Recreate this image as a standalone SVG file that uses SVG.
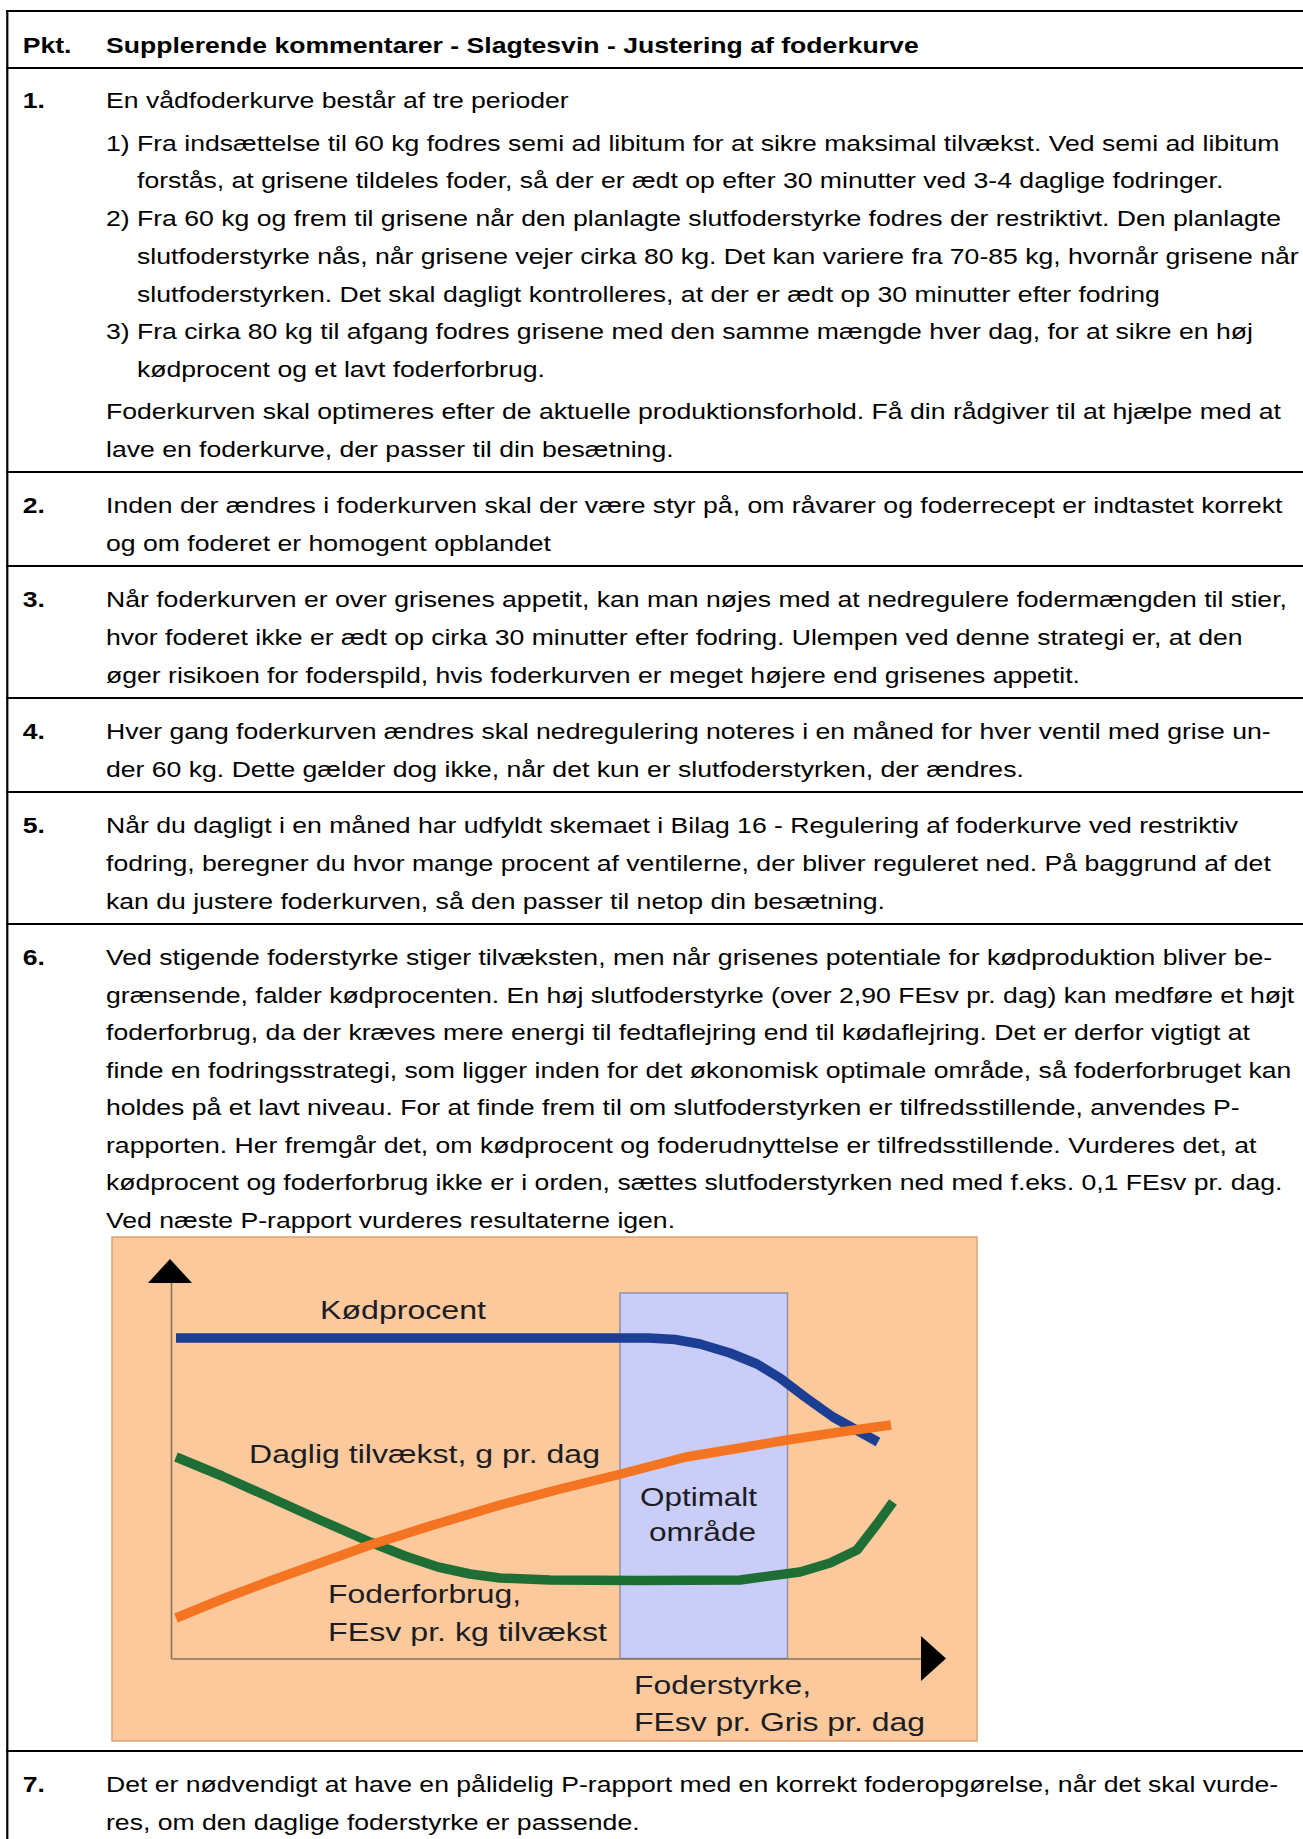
<svg xmlns="http://www.w3.org/2000/svg" width="1303" height="1839" viewBox="0 0 1303 1839">
<style>
.t{font-family:"Liberation Sans",Arial,sans-serif;font-size:22.6px;fill:#000}
.b{font-weight:bold}
.rule{stroke:#000;stroke-width:2.2;fill:none}
.lbl{font-family:"Liberation Sans",Arial,sans-serif;font-size:26px;fill:#1c1c24}
.curve{fill:none;stroke-width:9.5;stroke-linejoin:round;stroke-linecap:butt}
</style>
<rect x="0" y="0" width="1303" height="1839" fill="#fff"/>
<g id="table-rules">
<line class="rule" x1="7.3" y1="10" x2="7.3" y2="1839"/>
<line class="rule" x1="6" y1="11" x2="1303" y2="11"/>
<line class="rule" x1="6" y1="68" x2="1303" y2="68"/>
<line class="rule" x1="6" y1="472" x2="1303" y2="472"/>
<line class="rule" x1="6" y1="566" x2="1303" y2="566"/>
<line class="rule" x1="6" y1="698" x2="1303" y2="698"/>
<line class="rule" x1="6" y1="792" x2="1303" y2="792"/>
<line class="rule" x1="6" y1="924" x2="1303" y2="924"/>
<line class="rule" x1="6" y1="1751" x2="1303" y2="1751"/>
</g>
<g transform="scale(1.177,1)">
<g id="header">
<text class="t b" x="19.3" y="53">Pkt.</text>
<text class="t b" x="90.06" y="53">Supplerende kommentarer - Slagtesvin - Justering af foderkurve</text>
</g>
<g id="row1">
<text class="t b" x="19.3" y="108.3">1.</text>
<text class="t" x="90.06" y="108.3">En vådfoderkurve består af tre perioder</text>
<text class="t" x="90.06" y="150.8">1) Fra indsættelse til 60 kg fodres semi ad libitum for at sikre maksimal tilvækst. Ved semi ad libitum</text>
<text class="t" x="116.4" y="188.5">forstås, at grisene tildeles foder, så der er ædt op efter 30 minutter ved 3-4 daglige fodringer.</text>
<text class="t" x="90.06" y="226.2">2) Fra 60 kg og frem til grisene når den planlagte slutfoderstyrke fodres der restriktivt. Den planlagte</text>
<text class="t" x="116.4" y="263.9">slutfoderstyrke nås, når grisene vejer cirka 80 kg. Det kan variere fra 70-85 kg, hvornår grisene når</text>
<text class="t" x="116.4" y="301.6">slutfoderstyrken. Det skal dagligt kontrolleres, at der er ædt op 30 minutter efter fodring</text>
<text class="t" x="90.06" y="339.3">3) Fra cirka 80 kg til afgang fodres grisene med den samme mængde hver dag, for at sikre en høj</text>
<text class="t" x="116.4" y="377">kødprocent og et lavt foderforbrug.</text>
<text class="t" x="90.06" y="419.5">Foderkurven skal optimeres efter de aktuelle produktionsforhold. Få din rådgiver til at hjælpe med at</text>
<text class="t" x="90.06" y="457.2">lave en foderkurve, der passer til din besætning.</text>
</g>
<g id="row2">
<text class="t b" x="19.3" y="513">2.</text>
<text class="t" x="90.06" y="513">Inden der ændres i foderkurven skal der være styr på, om råvarer og foderrecept er indtastet korrekt</text>
<text class="t" x="90.06" y="550.7">og om foderet er homogent opblandet</text>
</g>
<g id="row3">
<text class="t b" x="19.3" y="607.5">3.</text>
<text class="t" x="90.06" y="607.5">Når foderkurven er over grisenes appetit, kan man nøjes med at nedregulere fodermængden til stier,</text>
<text class="t" x="90.06" y="645.2">hvor foderet ikke er ædt op cirka 30 minutter efter fodring. Ulempen ved denne strategi er, at den</text>
<text class="t" x="90.06" y="682.9">øger risikoen for foderspild, hvis foderkurven er meget højere end grisenes appetit.</text>
</g>
<g id="row4">
<text class="t b" x="19.3" y="739.5">4.</text>
<text class="t" x="90.06" y="739.5">Hver gang foderkurven ændres skal nedregulering noteres i en måned for hver ventil med grise un-</text>
<text class="t" x="90.06" y="777.2">der 60 kg. Dette gælder dog ikke, når det kun er slutfoderstyrken, der ændres.</text>
</g>
<g id="row5">
<text class="t b" x="19.3" y="833.5">5.</text>
<text class="t" x="90.06" y="833.5">Når du dagligt i en måned har udfyldt skemaet i Bilag 16 - Regulering af foderkurve ved restriktiv</text>
<text class="t" x="90.06" y="871.2">fodring, beregner du hvor mange procent af ventilerne, der bliver reguleret ned. På baggrund af det</text>
<text class="t" x="90.06" y="908.9">kan du justere foderkurven, så den passer til netop din besætning.</text>
</g>
<g id="row6">
<text class="t b" x="19.3" y="965.5">6.</text>
<text class="t" x="90.06" y="965.5">Ved stigende foderstyrke stiger tilvæksten, men når grisenes potentiale for kødproduktion bliver be-</text>
<text class="t" x="90.06" y="1003">grænsende, falder kødprocenten. En høj slutfoderstyrke (over 2,90 FEsv pr. dag) kan medføre et højt</text>
<text class="t" x="90.06" y="1040.5">foderforbrug, da der kræves mere energi til fedtaflejring end til kødaflejring. Det er derfor vigtigt at</text>
<text class="t" x="90.06" y="1078">finde en fodringsstrategi, som ligger inden for det økonomisk optimale område, så foderforbruget kan</text>
<text class="t" x="90.06" y="1115.5">holdes på et lavt niveau. For at finde frem til om slutfoderstyrken er tilfredsstillende, anvendes P-</text>
<text class="t" x="90.06" y="1153">rapporten. Her fremgår det, om kødprocent og foderudnyttelse er tilfredsstillende. Vurderes det, at</text>
<text class="t" x="90.06" y="1190.5">kødprocent og foderforbrug ikke er i orden, sættes slutfoderstyrken ned med f.eks. 0,1 FEsv pr. dag.</text>
<text class="t" x="90.06" y="1228">Ved næste P-rapport vurderes resultaterne igen.</text>
</g>
<g id="row7">
<text class="t b" x="19.3" y="1792.5">7.</text>
<text class="t" x="90.06" y="1792.5">Det er nødvendigt at have en pålidelig P-rapport med en korrekt foderopgørelse, når det skal vurde-</text>
<text class="t" x="90.06" y="1830">res, om den daglige foderstyrke er passende.</text>
</g>
</g>
<g id="chart">
<rect x="112" y="1237" width="865" height="504" fill="#fbc99b" stroke="#d9a476" stroke-width="1.5"/>
<rect id="optimal-area" x="620" y="1293" width="167.5" height="365.5" fill="#c9cdf8" stroke="#8f92a8" stroke-width="1.5"/>
<g id="axes">
<line x1="171.5" y1="1280" x2="171.5" y2="1659" stroke="#8a735c" stroke-width="1.6"/>
<line x1="171.5" y1="1659" x2="924" y2="1659" stroke="#8a735c" stroke-width="1.6"/>
<polygon points="170,1259 148,1283 192,1283" fill="#000"/>
<polygon points="921,1636 946,1658.5 921,1681" fill="#000"/>
</g>
<g id="curves">
<polyline class="curve" stroke="#1c3f95" points="176,1338 649,1338 675,1339.5 700,1344 730,1353 757,1364 780,1378 805,1397 833,1417 878,1442"/>
<polyline class="curve" stroke="#1f6e35" points="176,1457 222,1476 269,1497 320,1520 370,1542 405,1556 438,1567 470,1574 500,1578 550,1580 640,1580.5 740,1580 800,1572 830,1563 857,1550 877,1524 893,1502"/>
<polyline class="curve" stroke="#f47421" points="176,1618 225,1598 270,1581 320,1563 370,1545 430,1526 500,1505 560,1489 621,1474 686,1457 740,1448 787,1440 840,1432 891,1425"/>
</g>
<g id="labels">
<text class="lbl" x="320" y="1319" textLength="166" lengthAdjust="spacingAndGlyphs">Kødprocent</text>
<text class="lbl" x="249" y="1463" textLength="351" lengthAdjust="spacingAndGlyphs">Daglig tilvækst, g pr. dag</text>
<text class="lbl" x="640" y="1506" textLength="117" lengthAdjust="spacingAndGlyphs">Optimalt</text>
<text class="lbl" x="649" y="1541" textLength="107" lengthAdjust="spacingAndGlyphs">område</text>
<text class="lbl" x="328" y="1603" textLength="193" lengthAdjust="spacingAndGlyphs">Foderforbrug,</text>
<text class="lbl" x="328" y="1641" textLength="279" lengthAdjust="spacingAndGlyphs">FEsv pr. kg tilvækst</text>
<text class="lbl" x="634" y="1694" textLength="177" lengthAdjust="spacingAndGlyphs">Foderstyrke,</text>
<text class="lbl" x="634" y="1731" textLength="291" lengthAdjust="spacingAndGlyphs">FEsv pr. Gris pr. dag</text>
</g>
</g>
</svg>
